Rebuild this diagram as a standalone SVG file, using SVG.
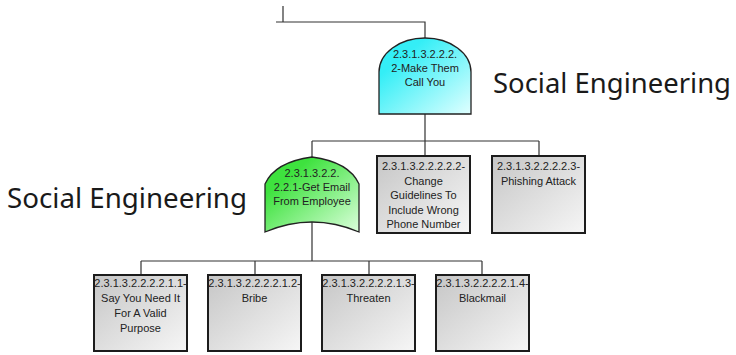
<svg xmlns="http://www.w3.org/2000/svg" width="736" height="355" viewBox="0 0 736 355">
<defs>
<linearGradient id="gBox" x1="0" y1="0" x2="1" y2="1">
<stop offset="0" stop-color="#c6c6c6"/>
<stop offset="1" stop-color="#f6f6f6"/>
</linearGradient>
<linearGradient id="gCyan" x1="0" y1="0" x2="1" y2="1">
<stop offset="0.25" stop-color="#34eef6"/>
<stop offset="1" stop-color="#e0ffff"/>
</linearGradient>
<linearGradient id="gGreen" x1="0" y1="0" x2="1" y2="1">
<stop offset="0.25" stop-color="#3ee23e"/>
<stop offset="1" stop-color="#dcffdc"/>
</linearGradient>
</defs>
<style>
.ln{stroke:#333;stroke-width:1.2;fill:none}
.box{fill:url(#gBox);stroke:#1c1c1c;stroke-width:2}
.gate{stroke:#222;stroke-width:1.3}
.t{font-family:"Liberation Sans",Arial,sans-serif;font-size:11px;fill:#222;text-anchor:middle}
.lbl{font-family:"Noto Sans","Open Sans",sans-serif;font-size:28px;fill:#1a1a1a}
</style>
<g id="connectors">
<path class="ln" d="M283,6 V22 M276,22 H425 V38"/>
<path class="ln" d="M425,114 V156 M312,141 H539 M312,141 V157 M539,141 V156"/>
<path class="ln" d="M312,222 V261 M141,261 H482 M141,261 V275 M255,261 V275 M369,261 V275 M482,261 V275"/>
</g>
<g id="n-make-them-call">
<path class="gate" fill="url(#gCyan)" d="M379,114 V72 A46,34 0 0 1 471,72 V114 Z"/>
<text class="t"><tspan x="425" y="58">2.3.1.3.2.2.2.</tspan><tspan x="425" y="72">2-Make Them</tspan><tspan x="425" y="86">Call You</tspan></text>
</g>
<g id="n-get-email">
<path class="gate" fill="url(#gGreen)" d="M312,157 Q275,162 265,184 V232 Q312,212 359,232 V184 Q349,162 312,157 Z"/>
<text class="t"><tspan x="312" y="177">2.3.1.3.2.2.</tspan><tspan x="312" y="191">2.2.1-Get Email</tspan><tspan x="312" y="205">From Employee</tspan></text>
</g>
<g id="n-change-guidelines">
<rect class="box" x="377" y="156" width="93" height="77"/>
<text class="t"><tspan x="423.5" y="170">2.3.1.3.2.2.2.2.2-</tspan><tspan x="423.5" y="184.5">Change</tspan><tspan x="423.5" y="199">Guidelines To</tspan><tspan x="423.5" y="213.5">Include Wrong</tspan><tspan x="423.5" y="228">Phone Number</tspan></text>
</g>
<g id="n-phishing">
<rect class="box" x="492" y="156" width="93" height="77"/>
<text class="t"><tspan x="538.5" y="170">2.3.1.3.2.2.2.2.3-</tspan><tspan x="538.5" y="184.5">Phishing Attack</tspan></text>
</g>
<g id="n-say-you-need">
<rect class="box" x="94" y="275" width="93" height="76"/>
<text class="t"><tspan x="140.5" y="287">2.3.1.3.2.2.2.2.1.1-</tspan><tspan x="140.5" y="302">Say You Need It</tspan><tspan x="140.5" y="317">For A Valid</tspan><tspan x="140.5" y="332">Purpose</tspan></text>
</g>
<g id="n-bribe">
<rect class="box" x="208" y="275" width="93" height="76"/>
<text class="t"><tspan x="254.5" y="287">2.3.1.3.2.2.2.2.1.2-</tspan><tspan x="254.5" y="302">Bribe</tspan></text>
</g>
<g id="n-threaten">
<rect class="box" x="322" y="275" width="93" height="76"/>
<text class="t"><tspan x="368.5" y="287">2.3.1.3.2.2.2.2.1.3-</tspan><tspan x="368.5" y="302">Threaten</tspan></text>
</g>
<g id="n-blackmail">
<rect class="box" x="436" y="275" width="93" height="76"/>
<text class="t"><tspan x="482.5" y="287">2.3.1.3.2.2.2.2.1.4-</tspan><tspan x="482.5" y="302">Blackmail</tspan></text>
</g>
<g id="labels">
<text class="lbl" x="493" y="93" textLength="238" lengthAdjust="spacingAndGlyphs">Social Engineering</text>
<text class="lbl" x="7" y="208" textLength="240" lengthAdjust="spacingAndGlyphs">Social Engineering</text>
</g>
</svg>
